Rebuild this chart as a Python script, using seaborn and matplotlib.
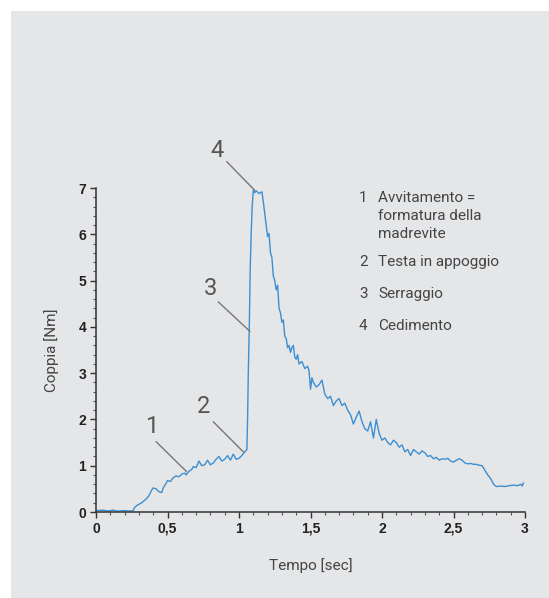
import matplotlib
matplotlib.use('Agg')
import numpy as np
import pandas as pd
import matplotlib.pyplot as plt
import matplotlib.patches as mpatches
from matplotlib.ticker import MultipleLocator, FuncFormatter
import seaborn as sns

# torque curve (time in sec, torque in Nm)
tempo = [0.00, 0.05, 0.08, 0.12, 0.15, 0.20, 0.24, 0.26, 0.27, 0.29,
         0.32, 0.35, 0.37, 0.39, 0.40, 0.42, 0.44, 0.46, 0.47, 0.49,
         0.50, 0.52, 0.54, 0.56, 0.58, 0.60, 0.62, 0.63, 0.65, 0.67,
         0.68, 0.70, 0.72, 0.74, 0.76, 0.78, 0.80, 0.82, 0.84, 0.86,
         0.88, 0.90, 0.92, 0.94, 0.96, 0.98, 1.00, 1.02, 1.04, 1.055,
         1.06, 1.065, 1.072, 1.078, 1.085, 1.092, 1.10, 1.11, 1.12, 1.14,
         1.16, 1.17, 1.18, 1.19, 1.20, 1.21, 1.22, 1.23, 1.24, 1.25,
         1.26, 1.27, 1.28, 1.29, 1.30, 1.31, 1.32, 1.33, 1.34, 1.35,
         1.36, 1.37, 1.38, 1.39, 1.40, 1.41, 1.42, 1.44, 1.46, 1.48,
         1.49, 1.50, 1.51, 1.52, 1.54, 1.56, 1.58, 1.60, 1.62, 1.64,
         1.66, 1.68, 1.70, 1.72, 1.74, 1.76, 1.78, 1.80, 1.82, 1.84,
         1.86, 1.88, 1.90, 1.92, 1.94, 1.96, 1.98, 2.00, 2.02, 2.04,
         2.06, 2.08, 2.10, 2.12, 2.14, 2.16, 2.18, 2.20, 2.22, 2.24,
         2.26, 2.28, 2.30, 2.32, 2.34, 2.36, 2.38, 2.40, 2.42, 2.44,
         2.46, 2.48, 2.50, 2.52, 2.54, 2.56, 2.58, 2.60, 2.62, 2.64,
         2.66, 2.68, 2.70, 2.72, 2.74, 2.76, 2.78, 2.80, 2.83, 2.86,
         2.89, 2.92, 2.95, 2.97, 2.98, 2.99]
coppia = [0.03, 0.04, 0.02, 0.04, 0.02, 0.03, 0.02, 0.03, 0.10, 0.15,
          0.20, 0.28, 0.35, 0.48, 0.52, 0.50, 0.44, 0.42, 0.52, 0.62,
          0.68, 0.66, 0.74, 0.78, 0.76, 0.82, 0.84, 0.80, 0.88, 0.92,
          0.98, 0.96, 1.10, 1.00, 1.02, 1.12, 1.02, 1.06, 1.14, 1.20,
          1.10, 1.14, 1.22, 1.12, 1.25, 1.14, 1.16, 1.22, 1.30, 1.35,
          2.00, 3.00, 4.00, 5.20, 6.00, 6.60, 6.95, 6.90, 6.94, 6.88,
          6.92, 6.70, 6.45, 6.20, 5.95, 6.02, 5.60, 5.50, 5.10, 5.00,
          4.80, 4.90, 4.40, 4.30, 4.10, 4.15, 3.80, 3.75, 3.55, 3.60,
          3.45, 3.55, 3.60, 3.35, 3.30, 3.40, 3.20, 3.25, 3.10, 3.15,
          3.05, 2.65, 2.90, 2.80, 2.70, 2.75, 2.85, 2.55, 2.45, 2.50,
          2.30, 2.40, 2.45, 2.30, 2.35, 2.20, 2.10, 1.90, 2.05, 2.18,
          1.95, 1.80, 1.75, 1.95, 1.60, 2.00, 1.70, 1.55, 1.60, 1.50,
          1.45, 1.55, 1.50, 1.40, 1.45, 1.30, 1.35, 1.22, 1.35, 1.30,
          1.25, 1.32, 1.28, 1.20, 1.22, 1.15, 1.18, 1.12, 1.15, 1.14,
          1.16, 1.10, 1.08, 1.12, 1.15, 1.12, 1.06, 1.04, 1.05, 1.03,
          1.03, 1.01, 1.00, 0.90, 0.80, 0.72, 0.60, 0.55, 0.56, 0.55,
          0.57, 0.58, 0.57, 0.60, 0.56, 0.63]

# numbered call-outs: label, text position, line start, line end (data units)
callouts = [
    ('1', (0.39, 1.84), (0.42, 1.52), (0.634, 0.87)),
    ('2', (0.75, 2.27), (0.82, 1.95), (1.03, 1.30)),
    ('3', (0.80, 4.83), (0.855, 4.54), (1.077, 3.90)),
    ('4', (0.85, 7.82), (0.914, 7.57), (1.11, 6.95)),
]

legend_nums = ['1', '', '', '2', '3', '4']
legend_txt = ['Avvitamento =', 'formatura della', 'madrevite',
              'Testa in appoggio', 'Serraggio', 'Cedimento']
legend_y = [198, 216, 234, 262, 294, 326]   # pixel rows

df = pd.DataFrame({'tempo': tempo, 'coppia': coppia})

sns.set_style('ticks')
plt.rcParams['font.family'] = ['Roboto', 'DejaVu Sans']

W, H = 549, 598
fig = plt.figure(figsize=(W / 100, H / 100), dpi=100)
fig.patch.set_facecolor('white')
fig.patches.append(mpatches.Rectangle((11 / W, 0), 1 - 11 / W, 1 - 11 / H,
                                      transform=fig.transFigure,
                                      facecolor='#e5e6e8', edgecolor='none',
                                      zorder=-10))

ax = fig.add_axes([96 / W, 1 - 512 / H, (525 - 96) / W, (512 - 188) / H])
ax.set_facecolor('none')

sns.lineplot(data=df, x='tempo', y='coppia', ax=ax, estimator=None,
             sort=False, color='#3b8fd2', linewidth=1.0)

ax.set_xlim(0, 3)
ax.set_ylim(0, 7)
ax.xaxis.set_major_locator(MultipleLocator(0.5))
ax.xaxis.set_minor_locator(MultipleLocator(0.1))
ax.yaxis.set_major_locator(MultipleLocator(1))
ax.yaxis.set_minor_locator(MultipleLocator(0.2))
ax.xaxis.set_major_formatter(FuncFormatter(
    lambda v, p: ('%g' % v).replace('.', ',')))
ax.yaxis.set_major_formatter(FuncFormatter(lambda v, p: '%d' % v))

for s in ['top', 'right']:
    ax.spines[s].set_visible(False)
for s in ['left', 'bottom']:
    ax.spines[s].set_color('#333333')
    ax.spines[s].set_linewidth(1.1)

ax.tick_params(which='major', length=4, width=1, color='#333333',
               labelsize=10, labelcolor='#222222', pad=3)
ax.tick_params(which='minor', length=2.5, width=0.8, color='#555555')
for lab in ax.get_xticklabels() + ax.get_yticklabels():
    lab.set_fontfamily('Liberation Sans')
    lab.set_fontweight('bold')

ax.set_xlabel('Tempo [sec]', fontsize=11, color='#444444', labelpad=16)
ax.set_ylabel('Coppia [Nm]', fontsize=11, color='#444444', labelpad=14)

for num, txt_xy, p0, p1 in callouts:
    ax.plot([p0[0], p1[0]], [p0[1], p1[1]], color='#777777', lw=1.0,
            clip_on=False)
    ax.text(txt_xy[0], txt_xy[1], num, fontsize=17, color='#555555',
            ha='center', va='center', clip_on=False)

for num, txt, y in zip(legend_nums, legend_txt, legend_y):
    if num:
        fig.text(359 / W, 1 - y / H, num, fontsize=11, color='#444444',
                 va='center', ha='left')
    fig.text(378 / W, 1 - y / H, txt, fontsize=11, color='#444444',
             va='center', ha='left')

plt.savefig('out.png', dpi=100)
print("Chart saved: out.png")
